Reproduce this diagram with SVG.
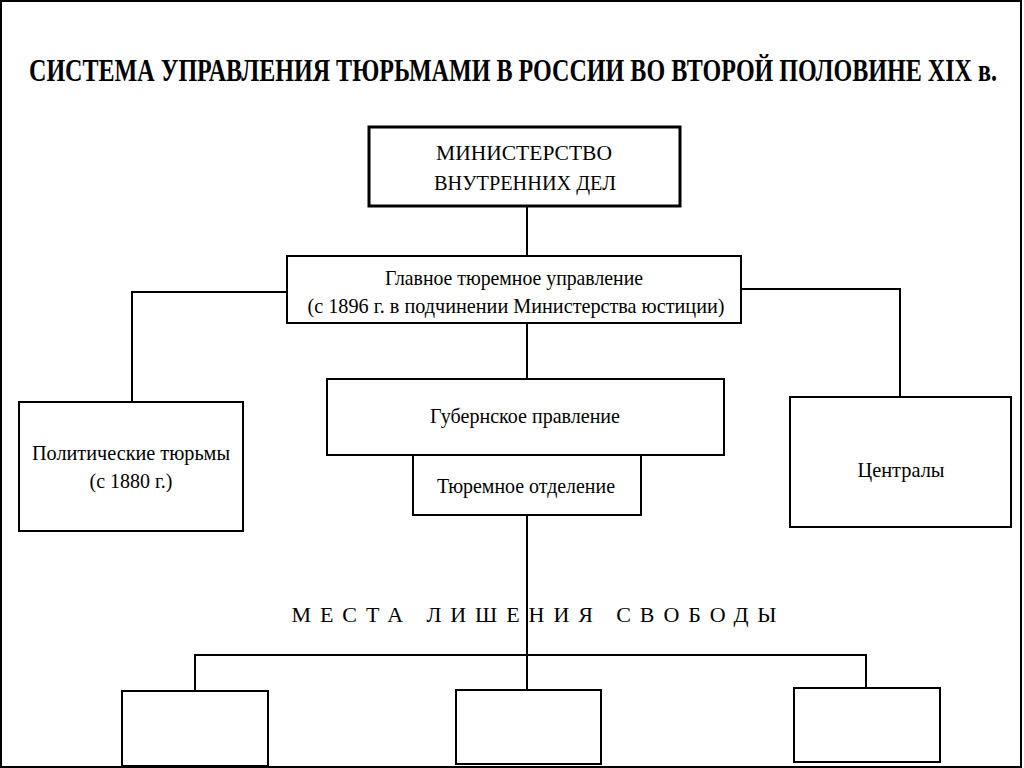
<svg xmlns="http://www.w3.org/2000/svg" width="1024" height="768" viewBox="0 0 1024 768">
<style>
.box{fill:#fff;stroke:#000;stroke-width:2}
.thick{stroke-width:3}
.ln{fill:none;stroke:#000;stroke-width:2}
text{font-family:'Liberation Serif','DejaVu Serif','Times New Roman',serif;fill:#000;text-anchor:middle}
.t{font-size:21px}
.m{font-size:22px}
</style>
<rect x="1" y="1" width="1020" height="766" fill="#fff" stroke="#000" stroke-width="2"/>
<text x="513" y="81" font-size="31" font-weight="bold" textLength="968" lengthAdjust="spacingAndGlyphs">СИСТЕМА УПРАВЛЕНИЯ ТЮРЬМАМИ В РОССИИ ВО ВТОРОЙ ПОЛОВИНЕ XIX в.</text>
<g id="connectors">
<line class="ln" x1="527" y1="206" x2="527" y2="256"/>
<polyline class="ln" points="287,292 132,292 132,402"/>
<polyline class="ln" points="741,289 900,289 900,397"/>
<line class="ln" x1="527" y1="323" x2="527" y2="379"/>
<line class="ln" x1="527" y1="515" x2="527" y2="690"/>
<polyline class="ln" points="195,691 195,655 866,655 866,688"/>
</g>
<g id="ministry">
<rect class="box thick" x="369" y="127" width="311" height="79"/>
<text class="m" x="524" y="160" textLength="176" lengthAdjust="spacingAndGlyphs">МИНИСТЕРСТВО</text>
<text class="m" x="525" y="190" textLength="182" lengthAdjust="spacingAndGlyphs">ВНУТРЕННИХ ДЕЛ</text>
</g>
<g id="gtu">
<rect class="box" x="287" y="256" width="454" height="67"/>
<text class="t" x="514" y="285" textLength="258" lengthAdjust="spacingAndGlyphs">Главное тюремное управление</text>
<text class="t" x="516" y="313" textLength="417" lengthAdjust="spacingAndGlyphs">(с 1896 г. в подчинении Министерства юстиции)</text>
</g>
<g id="political">
<rect class="box" x="19" y="402" width="224" height="129"/>
<text class="t" x="131" y="460" textLength="198" lengthAdjust="spacingAndGlyphs">Политические тюрьмы</text>
<text class="t" x="131" y="488" textLength="83" lengthAdjust="spacingAndGlyphs">(с 1880 г.)</text>
</g>
<g id="centrals">
<rect class="box" x="790" y="397" width="221" height="130"/>
<text class="t" x="901" y="477" textLength="87" lengthAdjust="spacingAndGlyphs">Централы</text>
</g>
<g id="gubernia">
<rect class="box" x="327" y="379" width="397" height="76"/>
<text class="t" x="525" y="423" textLength="190" lengthAdjust="spacingAndGlyphs">Губернское правление</text>
</g>
<g id="prison-dept">
<rect class="box" x="413" y="455" width="228" height="60"/>
<text class="t" x="526" y="493" textLength="178" lengthAdjust="spacingAndGlyphs">Тюремное отделение</text>
</g>
<g id="places-label">
<text x="534" y="622" font-size="22" textLength="485" lengthAdjust="spacing">МЕСТА ЛИШЕНИЯ СВОБОДЫ</text>
</g>
<g id="place-1"><rect class="box" x="122" y="691" width="146" height="75"/></g>
<g id="place-2"><rect class="box" x="456" y="690" width="145" height="74"/></g>
<g id="place-3"><rect class="box" x="794" y="688" width="146" height="74"/></g>
</svg>
